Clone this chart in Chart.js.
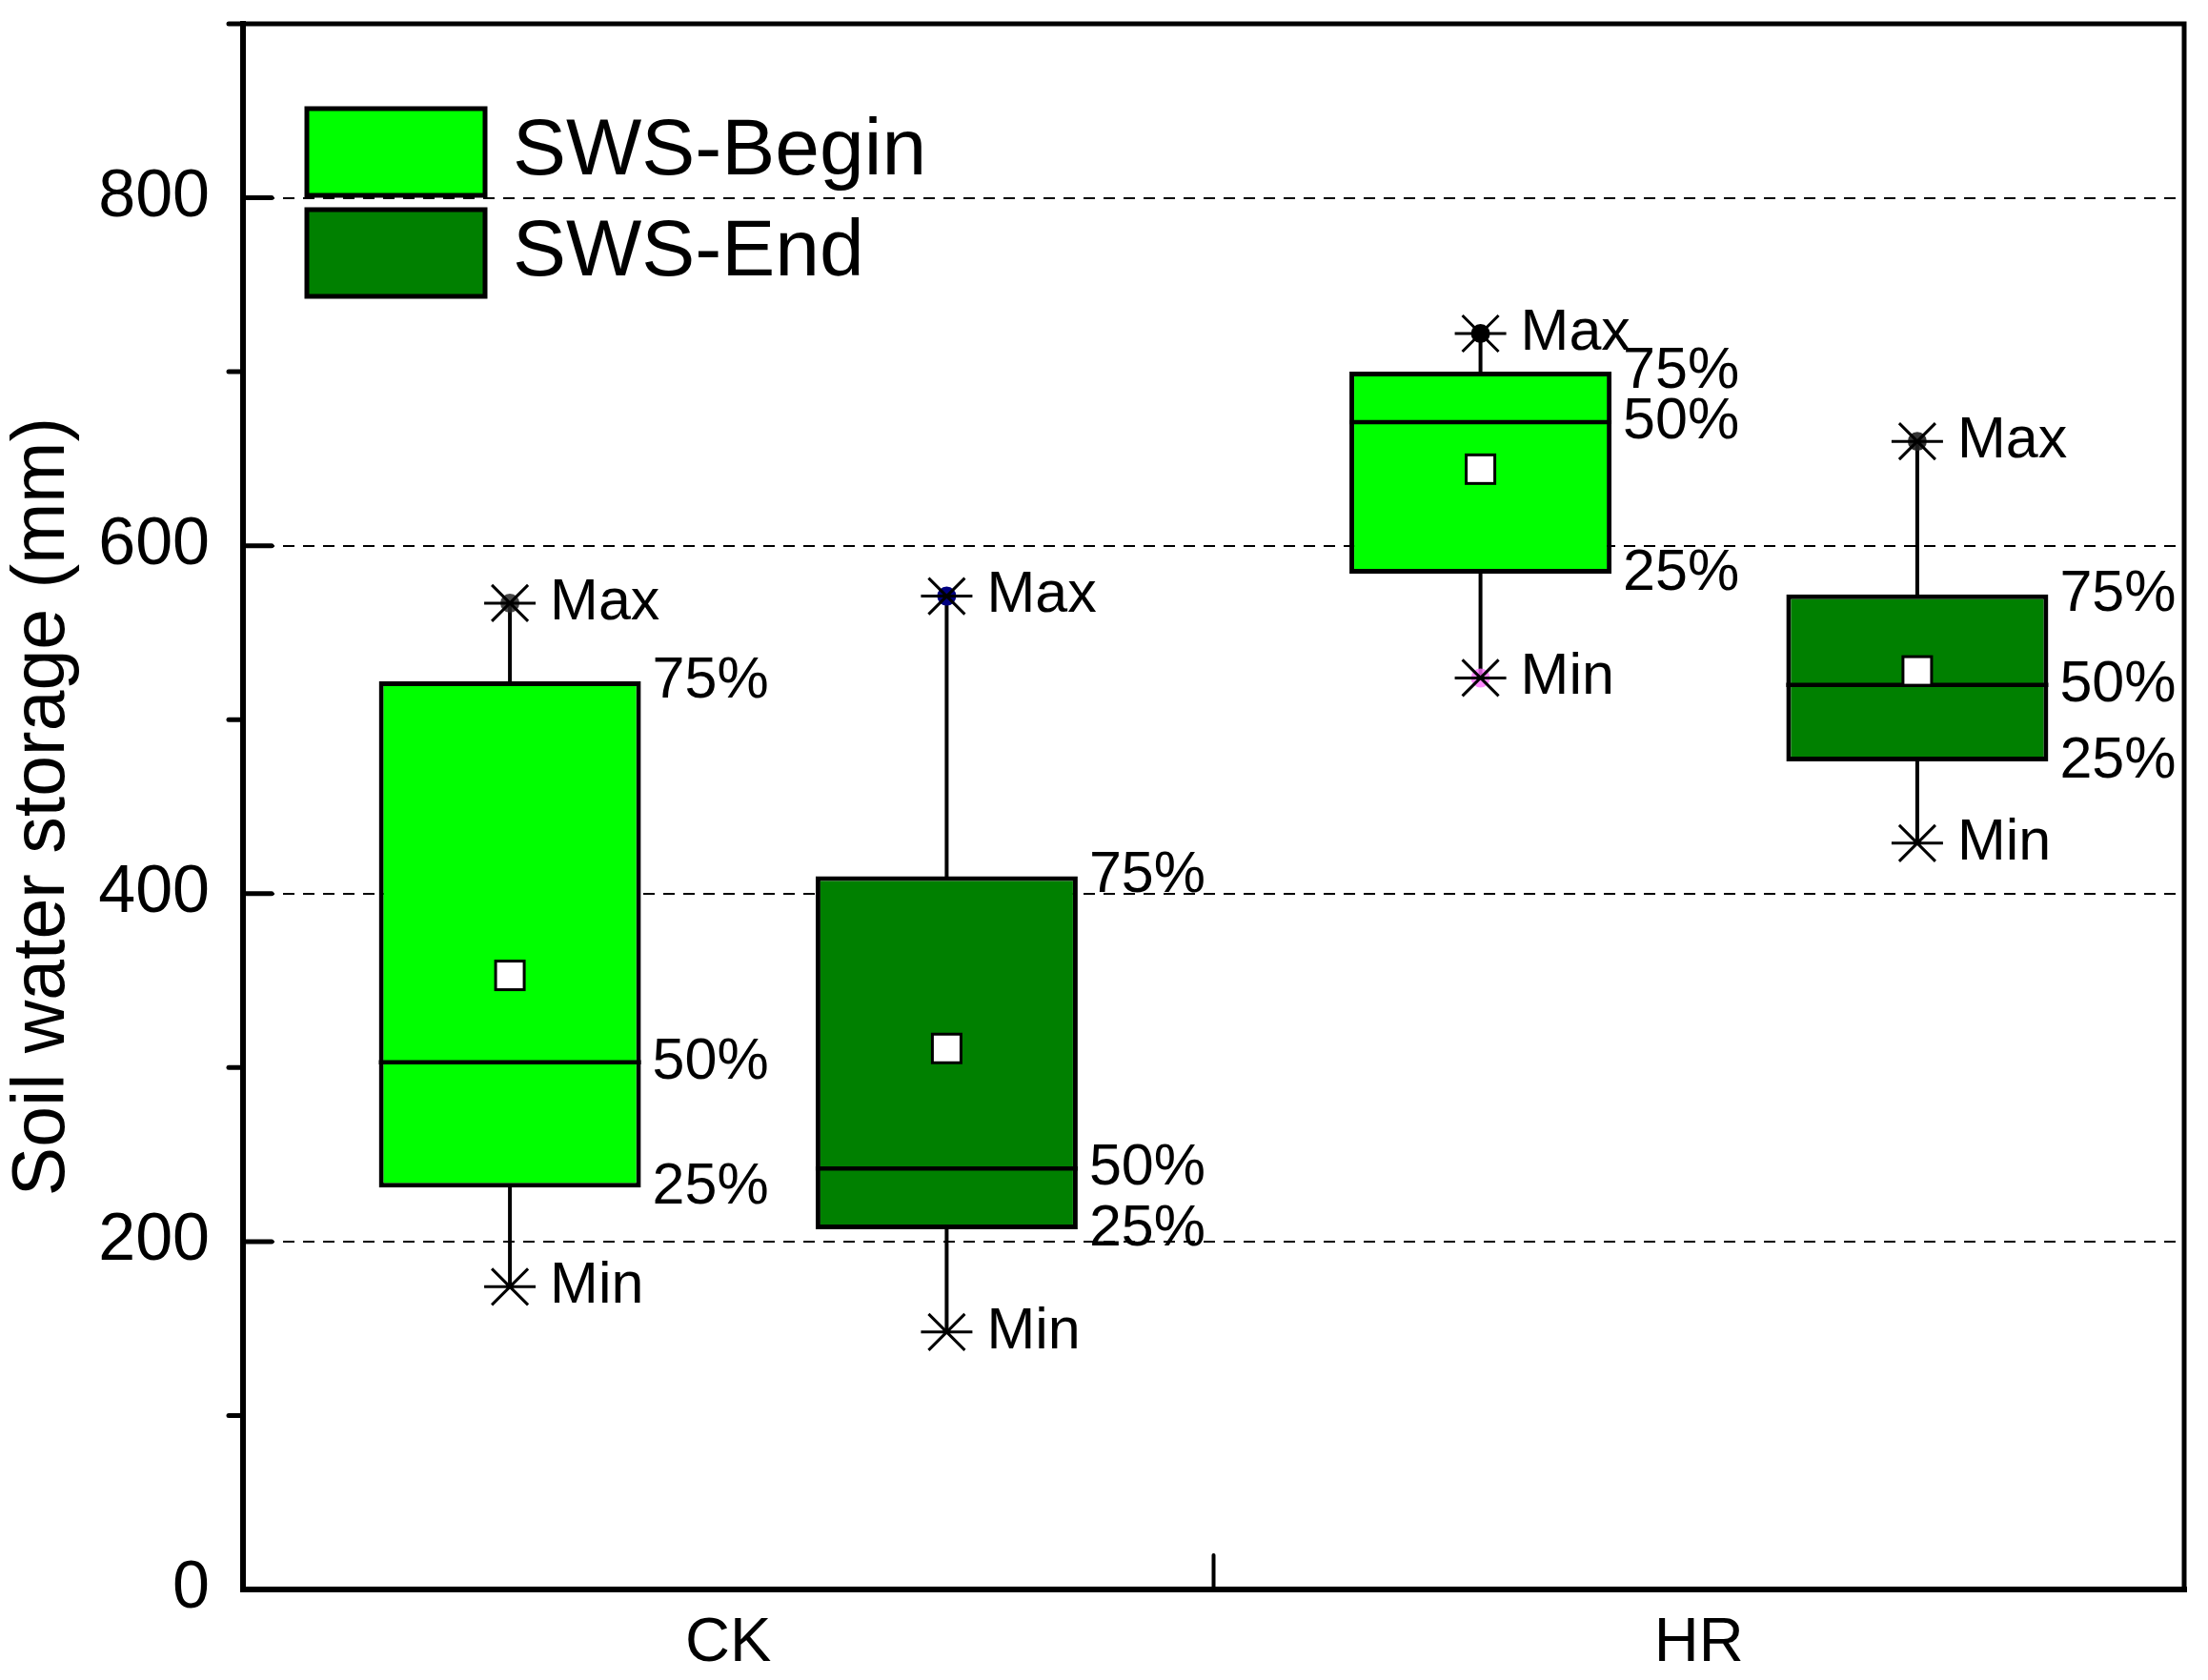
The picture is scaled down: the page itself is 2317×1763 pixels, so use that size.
<!DOCTYPE html>
<html>
<head>
<meta charset="utf-8">
<script src="https://cdn.jsdelivr.net/npm/chart.js@4.4.0/dist/chart.umd.min.js"></script>
<style>
  html, body { margin: 0; padding: 0; background: #fff; }
  canvas { display: block; }
</style>
</head>
<body>
<canvas id="myChart" width="2317" height="1763"></canvas>
<script>
//------------------data---------------------
const categories = ['CK', 'HR'];
const seriesNames = ['SWS-Begin', 'SWS-End'];

// SWS-Begin box stats
const beginMin = [174, 524];
const beginQ1 = [231, 584];
const beginMedian = [303, 671];
const beginQ3 = [522, 700];
const beginMax = [567, 722];
const beginMean = [353, 644];

// SWS-End box stats
const endMin = [148, 429];
const endQ1 = [207, 476];
const endMedian = [242, 520];
const endQ3 = [410, 572];
const endMax = [571, 660];
const endMean = [311, 528];

const yTickLabels = [0, 200, 400, 600, 800];

//------------------styles---------------------
const seriesColors = ['#00ff00', '#008000'];
const maxDotColors = [['rgba(40,40,40,0.85)', '#000000'], ['#000080', 'rgba(30,30,30,0.9)']];
const minDotColors = [[null, 'rgba(255,110,255,0.8)'], [null, null]];

const FONT = '"Liberation Sans", Arial, sans-serif';

const boxStats = [
  {min: beginMin, q1: beginQ1, median: beginMedian, q3: beginQ3, max: beginMax, mean: beginMean},
  {min: endMin, q1: endQ1, median: endMedian, q3: endQ3, max: endMax, mean: endMean}
];

function floatingBars(lo, hi) {
  return lo.map((v, i) => [v, hi[i]]);
}

//------------------drawing helpers---------------------
function drawStar(ctx, x, y, dotColor) {
  if (dotColor) {
    ctx.fillStyle = dotColor;
    ctx.beginPath();
    ctx.arc(x, y, 10, 0, Math.PI * 2);
    ctx.fill();
  }
  ctx.strokeStyle = '#000';
  ctx.lineWidth = 3;
  ctx.beginPath();
  ctx.moveTo(x - 27, y); ctx.lineTo(x + 27, y);
  ctx.moveTo(x - 19, y - 19); ctx.lineTo(x + 19, y + 19);
  ctx.moveTo(x - 19, y + 19); ctx.lineTo(x + 19, y - 19);
  ctx.stroke();
}

function drawText(ctx, text, x, y) {
  ctx.fillStyle = '#000';
  ctx.font = '61px ' + FONT;
  ctx.textAlign = 'left';
  ctx.textBaseline = 'middle';
  ctx.fillText(text, x, y);
}

const boxPlotPlugin = {
  id: 'boxPlotPlugin',
  beforeDraw(chart) {
    const ctx = chart.ctx;
    ctx.save();
    ctx.fillStyle = '#fff';
    ctx.fillRect(0, 0, chart.width, chart.height);
    ctx.restore();
  },
  afterDatasetsDraw(chart) {
    const ctx = chart.ctx;
    const yScale = chart.scales.y;
    const xScale = chart.scales.x;
    const area = chart.chartArea;
    ctx.save();

    //whiskers, median, mean, markers, labels
    chart.data.datasets.forEach((ds, di) => {
      const meta = chart.getDatasetMeta(di);
      const st = boxStats[di];
      meta.data.forEach((bar, i) => {
        const x = bar.x;
        const half = bar.width / 2;
        const pMin = yScale.getPixelForValue(st.min[i]);
        const pQ1 = yScale.getPixelForValue(st.q1[i]);
        const pMed = yScale.getPixelForValue(st.median[i]);
        const pQ3 = yScale.getPixelForValue(st.q3[i]);
        const pMax = yScale.getPixelForValue(st.max[i]);
        const pMean = yScale.getPixelForValue(st.mean[i]);

        ctx.strokeStyle = '#000';
        ctx.lineWidth = 4;
        ctx.beginPath();
        ctx.moveTo(x, pQ3 + 3); ctx.lineTo(x, pMax);
        ctx.moveTo(x, pQ1 - 3); ctx.lineTo(x, pMin);
        ctx.stroke();

        ctx.lineWidth = 4.5;
        ctx.beginPath();
        ctx.moveTo(x - half, pMed); ctx.lineTo(x + half, pMed);
        ctx.stroke();

        ctx.fillStyle = '#fff';
        ctx.fillRect(x - 15, pMean - 15, 30, 30);
        ctx.lineWidth = 3;
        ctx.strokeRect(x - 15, pMean - 15, 30, 30);

        drawStar(ctx, x, pMax, maxDotColors[di][i]);
        drawStar(ctx, x, pMin, minDotColors[di][i]);

        drawText(ctx, 'Max', x + 42, pMax);
        drawText(ctx, 'Min', x + 42, pMin);
        drawText(ctx, '75%', x + half + 12, pQ3);
        drawText(ctx, '50%', x + half + 12, pMed);
        drawText(ctx, '25%', x + half + 12, pQ1);
      });
    });

    //frame
    ctx.strokeStyle = '#000';
    ctx.lineCap = 'square';
    ctx.lineWidth = 6;
    ctx.beginPath();
    ctx.moveTo(area.left, area.top); ctx.lineTo(area.left, area.bottom);
    ctx.lineTo(area.right, area.bottom);
    ctx.stroke();
    ctx.lineWidth = 5;
    ctx.beginPath();
    ctx.moveTo(area.left, area.top); ctx.lineTo(area.right, area.top);
    ctx.lineTo(area.right, area.bottom);
    ctx.stroke();

    //y ticks: major inward, minor outward
    ctx.lineCap = 'round';
    ctx.lineWidth = 5;
    yScale.ticks.forEach(t => {
      const py = yScale.getPixelForValue(t.value);
      ctx.beginPath();
      if (yTickLabels.includes(t.value)) {
        ctx.moveTo(area.left, py); ctx.lineTo(area.left + 30, py);
      } else {
        ctx.moveTo(area.left, py); ctx.lineTo(area.left - 15, py);
      }
      ctx.stroke();
    });

    //x tick between categories
    ctx.lineWidth = 4;
    const xb = (xScale.getPixelForValue(0) + xScale.getPixelForValue(1)) / 2;
    ctx.beginPath();
    ctx.moveTo(xb, area.bottom); ctx.lineTo(xb, area.bottom - 36);
    ctx.stroke();

    //legend
    const lx = area.left + 67;
    let ly = area.top + 89;
    chart.data.datasets.forEach(ds => {
      ctx.fillStyle = ds.backgroundColor;
      ctx.fillRect(lx, ly, 187, 91);
      ctx.lineWidth = 5;
      ctx.lineCap = 'butt';
      ctx.strokeRect(lx, ly, 187, 91);
      ctx.fillStyle = '#000';
      ctx.font = '84px ' + FONT;
      ctx.textAlign = 'left';
      ctx.textBaseline = 'middle';
      ctx.fillText(ds.label, lx + 216, ly + 46);
      ly += 106;
    });

    ctx.restore();
  }
};

//------------------chart---------------------
function createChart() {
  const myChart = document.getElementById('myChart').getContext('2d');
  new Chart(myChart, {
    type: 'bar',
    data: {
      labels: categories,
      datasets: [
        {
          label: seriesNames[0],
          data: floatingBars(beginQ1, beginQ3),
          backgroundColor: seriesColors[0],
          borderColor: '#000',
          borderWidth: 5,
          borderSkipped: false
        },
        {
          label: seriesNames[1],
          data: floatingBars(endQ1, endQ3),
          backgroundColor: seriesColors[1],
          borderColor: '#000',
          borderWidth: 5,
          borderSkipped: false
        }
      ]
    },
    options: {
      responsive: false,
      animation: false,
      devicePixelRatio: 1,
      categoryPercentage: 0.9,
      barPercentage: 0.6,
      layout: { padding: { left: 0, top: 25, right: 25, bottom: 0 } },
      plugins: {
        legend: { display: false },
        tooltip: { enabled: false }
      },
      scales: {
        x: {
          offset: true,
          grid: { display: false },
          border: { display: false },
          ticks: {
            color: '#000',
            padding: 10,
            font: { family: FONT, size: 65 }
          },
          afterFit(scale) {
            scale.height = 95;
            scale.paddingLeft = 0;
            scale.paddingRight = 0;
          }
        },
        y: {
          min: 0,
          max: 900,
          grid: {
            drawTicks: false,
            lineWidth: 2,
            color: c => (c.tick && c.tick.value > 0 && yTickLabels.includes(c.tick.value)) ? '#000' : 'rgba(0,0,0,0)'
          },
          border: { display: false, dash: [12, 9] },
          ticks: {
            stepSize: 100,
            color: '#000',
            padding: 35,
            font: { family: FONT, size: 70 },
            callback: v => yTickLabels.includes(v) ? String(v) : ''
          },
          title: {
            display: true,
            text: 'Soil water storage (mm)',
            color: '#000',
            padding: 0,
            font: { family: FONT, size: 77 }
          },
          afterFit(scale) {
            scale.width = 255;
            scale.paddingTop = 0;
            scale.paddingBottom = 0;
          }
        }
      }
    },
    plugins: [boxPlotPlugin]
  });
}

createChart();
</script>
</body>
</html>
